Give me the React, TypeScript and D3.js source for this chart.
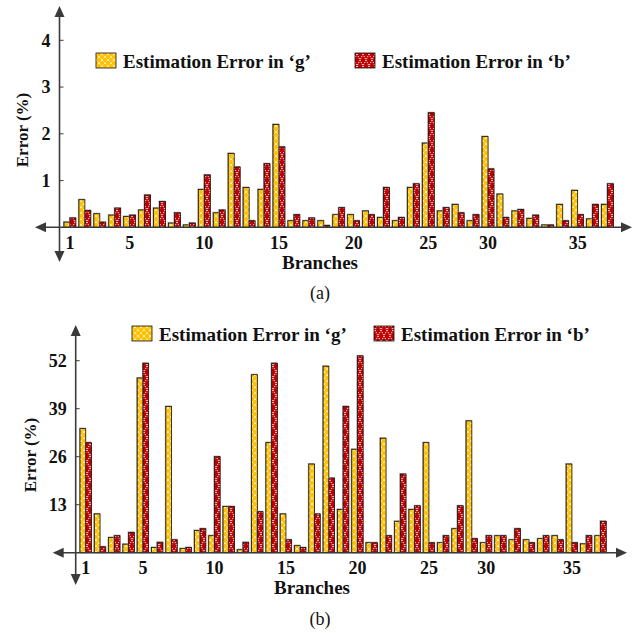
import React from "react";
import * as d3 from "d3";

const branches = d3.range(1, 38);
const gTop = [0.11,0.59,0.29,0.26,0.23,0.37,0.41,0.09,0.05,0.81,0.31,1.58,0.85,0.81,2.2,0.14,0.14,0.14,0.27,0.27,0.35,0.21,0.14,0.85,1.8,0.35,0.49,0.14,1.94,0.71,0.35,0.19,0.05,0.49,0.79,0.18,0.49];
const bTop = [0.2,0.36,0.11,0.41,0.26,0.69,0.55,0.31,0.09,1.12,0.37,1.29,0.14,1.36,1.72,0.27,0.2,0.04,0.42,0.14,0.27,0.85,0.21,0.93,2.45,0.42,0.31,0.27,1.25,0.21,0.38,0.26,0.05,0.14,0.27,0.49,0.93];
const gBot = [33.6,10.5,4.1,2.3,47.3,1.4,39.6,1.1,6.0,4.6,12.5,0.8,48.2,29.8,10.5,1.9,24.0,50.5,11.7,28.0,2.7,31.0,8.5,11.7,29.8,2.7,6.5,35.7,2.7,4.6,3.5,3.5,3.8,4.6,24.0,2.4,4.6];
const bBot = [29.8,1.6,4.6,5.5,51.3,2.8,3.5,1.4,6.5,26.0,12.5,2.8,11.1,51.3,3.5,1.4,10.5,20.2,39.6,53.3,2.7,4.6,21.3,12.7,2.7,4.6,12.7,3.8,4.6,4.6,6.5,2.7,4.6,3.5,2.7,4.6,8.5];
const yTicksTop = [1, 2, 3, 4];
const yTicksBot = [13, 26, 39, 52];
const xTickLabels = ["1", "5", "10", "15", "20", "25", "30", "35"];
const xTickBranches = [1, 5, 10, 15, 20, 25, 29, 35];
const seriesNames = ["Estimation Error in \u2018g\u2019", "Estimation Error in \u2018b\u2019"];

const YEL = "#FFC000";
const RED = "#C00000";
const AX = "#3a3a3a";
const FONT = "'Liberation Serif', 'Times New Roman', serif";

function Arrow({ x, y, dir }: { x: number; y: number; dir: string }) {
  const L = 11, W = 5;
  let pts = "";
  if (dir === "up") pts = `${x},${y} ${x - W},${y + L} ${x + W},${y + L}`;
  if (dir === "down") pts = `${x},${y} ${x - W},${y - L} ${x + W},${y - L}`;
  if (dir === "left") pts = `${x},${y} ${x + L},${y - W} ${x + L},${y + W}`;
  if (dir === "right") pts = `${x},${y} ${x - L},${y - W} ${x - L},${y + W}`;
  return <polygon points={pts} fill={AX} />;
}

function Panel(props: {
  g: number[]; b: number[]; yMax: number; yTicks: number[];
  x0: number; x1: number; y0: number; yTop: number; axX: number;
  axTop: number; axBottom: number; axLeft: number; axRight: number;
  tickY: number; branchX: number; branchY: number; capY: number; cap: string;
  yLabelX: number; yLabelY: number;
  legY: number; legX1: number; legX2: number;
}) {
  const p = props;
  const x = d3.scaleBand<number>().domain(branches).range([p.x0, p.x1]).paddingInner(0.2).paddingOuter(0.1);
  const inner = d3.scaleBand<string>().domain(["g", "b"]).range([0, x.bandwidth()]);
  const y = d3.scaleLinear().domain([0, p.yMax]).range([p.y0, p.yTop]);
  const bars: any[] = [];
  branches.forEach((br, i) => {
    [["g", p.g[i]], ["b", p.b[i]]].forEach(([k, v]: any) => {
      const bx = (x(br) as number) + (inner(k) as number);
      const by = y(v);
      const h = p.y0 - by;
      const w = inner.bandwidth();
      bars.push(
        <g key={`${br}-${k}`}>
          <rect x={bx - 1} y={by - 1} width={w + 1} height={h + 1} fill="#9a9a9a" />
          <rect x={bx} y={by} width={w} height={h} fill={`url(#pat-${k})`} stroke="#111" strokeWidth={0.8} />
        </g>
      );
    });
  });
  return (
    <g>
      {bars}
      <line x1={p.axX} x2={p.axX} y1={p.axTop + 8} y2={p.axBottom - 8} stroke={AX} strokeWidth={1.6} />
      <line x1={p.axLeft + 8} x2={p.axRight - 8} y1={p.y0} y2={p.y0} stroke={AX} strokeWidth={1.6} />
      <Arrow x={p.axX} y={p.axTop} dir="up" />
      <Arrow x={p.axX} y={p.axBottom} dir="down" />
      <Arrow x={p.axLeft} y={p.y0} dir="left" />
      <Arrow x={p.axRight} y={p.y0} dir="right" />
      {p.yTicks.map((t) => (
        <g key={t}>
          <line x1={p.axX} x2={p.axX + 4} y1={y(t)} y2={y(t)} stroke={AX} strokeWidth={1} />
          <text x={p.axX - 9} y={y(t)} dy="0.35em" textAnchor="end" fontFamily={FONT} fontWeight="bold" fontSize={18} fill="#111">{t}</text>
        </g>
      ))}
      {xTickLabels.map((l, i) => (
        <text key={l} x={(x(xTickBranches[i]) as number) + x.bandwidth() / 2} y={p.tickY} textAnchor="middle" fontFamily={FONT} fontWeight="bold" fontSize={18} fill="#111">{l}</text>
      ))}
      <text x={p.branchX} y={p.branchY} textAnchor="middle" fontFamily={FONT} fontWeight="bold" fontSize={19} fill="#111">Branches</text>
      <text x={320} y={p.capY} textAnchor="middle" fontFamily={FONT} fontSize={18} fill="#111">{p.cap}</text>
      <text transform={`translate(${p.yLabelX},${p.yLabelY}) rotate(-90)`} textAnchor="middle" fontFamily={FONT} fontWeight="bold" fontSize={17} fill="#111">Error (%)</text>
      {[p.legX1, p.legX2].map((lx, i) => (
        <g key={i}>
          <rect x={lx} y={p.legY - 15} width={20} height={15} fill={`url(#pat-${i === 0 ? "g" : "b"})`} stroke="#111" strokeWidth={0.8} />
          <text x={lx + 27} y={p.legY} fontFamily={FONT} fontWeight="bold" fontSize={19} fill="#111">{seriesNames[i]}</text>
        </g>
      ))}
    </g>
  );
}

export default function App() {
  return (
    <svg width={638} height={633} style={{ position: "absolute", left: 0, top: 0, background: "#fff" }}>
      <defs>
        <pattern id="pat-g" patternUnits="userSpaceOnUse" width={6} height={12}>
          <rect width={6} height={12} fill={YEL} />
          <path d="M0,0 L6,6 L0,12 M6,0 L0,6 L6,12" stroke="#fff" strokeWidth={1} strokeDasharray="1.2,1" fill="none" opacity={0.9} />
        </pattern>
        <pattern id="pat-b" patternUnits="userSpaceOnUse" width={6} height={12}>
          <rect width={6} height={12} fill={RED} />
          <path d="M0,0 L6,12 M6,0 L0,12" stroke="#fff" strokeWidth={1} strokeDasharray="1.2,1" fill="none" opacity={0.9} />
        </pattern>
      </defs>
      <Panel g={gTop} b={bTop} yMax={4} yTicks={yTicksTop}
        x0={62.5} x1={615} y0={227.3} yTop={40.3} axX={59.5}
        axTop={6} axBottom={262} axLeft={35} axRight={632}
        tickY={249} branchX={320} branchY={269} capY={299} cap="(a)"
        yLabelX={28} yLabelY={130}
        legY={68} legX1={96} legX2={355} />
      <Panel g={gBot} b={bBot} yMax={52} yTicks={yTicksBot}
        x0={78.6} x1={607.7} y0={552.7} yTop={360.7} axX={75.7}
        axTop={325} axBottom={585} axLeft={52.7} axRight={627}
        tickY={574} branchX={312} branchY={594} capY={625} cap="(b)"
        yLabelX={36} yLabelY={455}
        legY={341} legX1={132} legX2={374} />
    </svg>
  );
}
